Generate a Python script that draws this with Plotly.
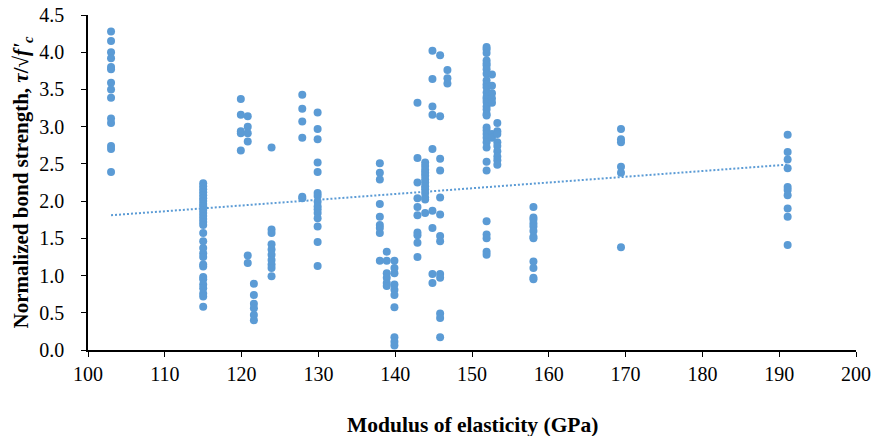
import plotly.graph_objects as go

# Modulus of elasticity (GPa) groups and normalized bond strength values
x103 = [4.28, 4.15, 4.00, 3.92, 3.80, 3.77, 3.59, 3.50, 3.39, 3.11, 3.05, 2.74, 2.70, 2.39]
x115 = [2.24, 2.20, 2.16, 2.12, 2.08, 2.04, 2.00, 1.96, 1.93, 1.88, 1.84, 1.80, 1.76, 1.72,
        1.68, 1.57, 1.46, 1.37, 1.30, 1.25, 1.15, 1.12, 0.98, 0.95, 0.88, 0.83, 0.76, 0.72, 0.58]
x120 = [3.37, 3.16, 2.94, 2.91, 2.68]
x121 = [3.14, 3.00, 2.91, 2.80, 1.27, 1.17]
x122 = [0.89, 0.74, 0.62, 0.56, 0.47, 0.40]
x124 = [2.72, 1.62, 1.57, 1.42, 1.35, 1.28, 1.21, 1.15, 1.10, 0.99]
x128 = [3.43, 3.24, 3.07, 2.85, 2.06, 2.04]
x130 = [3.19, 2.97, 2.83, 2.52, 2.39, 2.11, 2.07, 1.99, 1.93, 1.89, 1.84, 1.77, 1.66, 1.45, 1.13]
x138 = [2.51, 2.38, 2.29, 1.96, 1.79, 1.68, 1.64, 1.57, 1.20]
x139 = [1.32, 1.20, 1.03, 0.97, 0.90, 0.86]
x140 = [1.20, 1.10, 1.03, 0.88, 0.81, 0.74, 0.575, 0.17, 0.11, 0.06]
x143 = [3.32, 2.58, 2.25, 2.04, 1.92, 1.81, 1.58, 1.54, 1.44, 1.25]
x144 = [2.52, 2.47, 2.42, 2.38, 2.34, 2.29, 2.25, 2.20, 2.16, 2.11, 2.05, 2.02, 1.84]
x145 = [4.02, 3.64, 3.27, 3.16, 2.70, 1.87, 1.64, 1.02, 0.90]
x146 = [3.96, 3.14, 2.57, 2.41, 2.05, 1.82, 1.53, 1.46, 1.02, 0.97, 0.49, 0.43, 0.17]
x147 = [3.76, 3.65, 3.58]
x152 = [4.07, 4.04, 3.99, 3.89, 3.85, 3.82, 3.77, 3.71, 3.62, 3.57, 3.53, 3.46, 3.40,
        3.37, 3.33, 3.27, 3.23, 3.17, 3.15, 2.99, 2.95, 2.90, 2.85, 2.79, 2.72, 2.53, 2.41,
        1.73, 1.55, 1.50, 1.32, 1.28]
x1526 = [3.70, 3.55, 3.45, 3.38, 3.32, 2.90, 2.85]
x153 = [3.05, 2.94, 2.90, 2.79, 2.74, 2.67, 2.60, 2.55, 2.49]
x158 = [1.92, 1.78, 1.75, 1.70, 1.66, 1.60, 1.52, 1.50, 1.19, 1.10, 0.97, 0.95]
x169 = [2.97, 2.83, 2.79, 2.46, 2.38, 1.38]
x191 = [2.89, 2.66, 2.56, 2.44, 2.19, 2.15, 2.08, 1.90, 1.79, 1.41]

group_x = [103, 115, 119.9, 120.8, 121.6, 123.9, 127.9, 129.9, 138, 138.9, 139.9, 142.9,
           143.9, 144.85, 145.85, 146.8, 151.9, 152.6, 153.3, 158, 169.4, 191.1]
group_vals = [x103, x115, x120, x121, x122, x124, x128, x130, x138, x139, x140, x143,
              x144, x145, x146, x147, x152, x1526, x153, x158, x169, x191]

# Linear trendline
trend_x = [103, 191.1]
trend_y = [1.81, 2.49]

xs = []
ys = []
for gx, vals in zip(group_x, group_vals):
    xs += [gx] * len(vals)
    ys += vals

color = "#5B9BD5"
font = "Liberation Serif, Times New Roman, serif"

fig = go.Figure()
fig.add_trace(go.Scatter(x=trend_x, y=trend_y, mode="lines",
                         line=dict(color=color, width=2, dash="2px,2px"), showlegend=False))
fig.add_trace(go.Scatter(x=xs, y=ys, mode="markers",
                         marker=dict(color=color, size=8), showlegend=False))

fig.update_layout(
    width=874, height=436,
    margin=dict(l=88, r=18, t=15, b=86),
    paper_bgcolor="white", plot_bgcolor="white",
    font=dict(family=font, size=20, color="black"),
    xaxis=dict(range=[100, 200], dtick=10, tick0=100, showgrid=False, zeroline=False,
               showline=True, linecolor="black", linewidth=1.5, automargin=False,
               ticks="outside", ticklen=5, tickcolor="black", tickwidth=1.3),
    yaxis=dict(range=[0, 4.5], dtick=0.5, tick0=0, tickformat=".1f", showgrid=False, zeroline=False,
               showline=True, linecolor="black", linewidth=1.5, automargin=False,
               ticks="outside", ticklen=5, tickcolor="black", tickwidth=1.3,
               ticklabelstandoff=13),
    annotations=[
        dict(text="<b>Modulus of elasticity (GPa)</b>", xref="paper", yref="paper",
             x=0.5, y=-0.225, xanchor="center", yanchor="middle", showarrow=False,
             font=dict(size=21.5)),
        dict(text="<b>Normalized bond strength, <i>τ</i>/√<i>f'</i><sub><i>c</i></sub></b>",
             xref="paper", yref="paper", x=-0.086, y=0.5, xanchor="center", yanchor="middle",
             textangle=-90, showarrow=False, font=dict(size=21)),
    ],
)

fig.write_html("out.html")
